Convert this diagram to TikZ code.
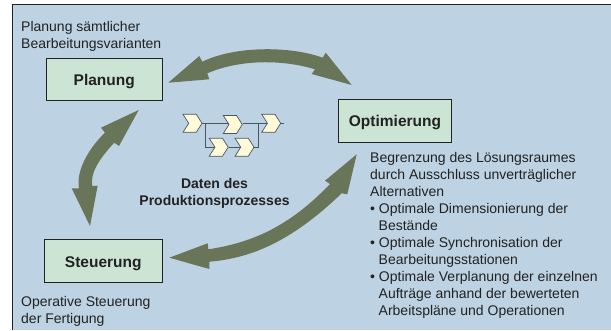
\documentclass[tikz,border=0pt]{standalone}
\usepackage{fontspec}
\setmainfont{Liberation Sans}
\usetikzlibrary{shapes.symbols}
\definecolor{panelblue}{HTML}{BDD2E2}
\definecolor{boxgreen}{HTML}{CBE4D4}
\definecolor{arrowgreen}{HTML}{687558}
\definecolor{stepyellow}{HTML}{FFFBD9}
\definecolor{linegray}{HTML}{4A5560}
\definecolor{inkdark}{HTML}{222222}
\tikzset{
	stagebox/.style={draw=inkdark,line width=0.9pt,fill=boxgreen,text=inkdark,inner sep=0pt,text height=12pt,text depth=0pt,font=\fontsize{15.5}{17}\selectfont\bfseries},
	plaintext/.style={anchor=north west,inner sep=0pt,align=left,text=inkdark,font=\fontsize{14}{17}\selectfont},
	boldtext/.style={inner sep=0pt,align=center,text=inkdark,font=\fontsize{14}{17}\selectfont\bfseries},
	procstep/.style={signal,signal from=west,signal to=east,signal pointer angle=115,draw=linegray,line width=0.7pt,fill=stepyellow,inner sep=0pt,minimum width=19pt,minimum height=18pt},
	flowline/.style={draw=linegray,line width=0.8pt},
	bigarrow/.style={fill=arrowgreen}
}
\begin{document}
\begin{tikzpicture}[x=1pt,y=-1pt]
		\useasboundingbox (0,0) rectangle (611,330);
		\fill[panelblue] (12.5,4.5) rectangle (611,330);
		\draw[inkdark,line width=0.9pt] (12.5,330) -- (12.5,4.5) -- (611,4.5);

		\node[stagebox,minimum width=115.5pt,minimum height=42pt] (planung) at (104.3,79) {Planung};
		\node[stagebox,minimum width=113.5pt,minimum height=43pt] (optimierung) at (395,120.8) {Optimierung};
		\node[stagebox,minimum width=118.5pt,minimum height=42.5pt] (steuerung) at (103.3,261) {Steuerung};

		% text beside the stages
		\node[plaintext] (plantext) at (21,21) {Planung sämtlicher\\Bearbeitungsvarianten};
		\node[plaintext] (steuertext) at (21,296.5) {Operative Steuerung\\der Fertigung};
		\node[plaintext] (optitext) at (370,152) {Begrenzung des Lösungsraumes\\durch Ausschluss unverträglicher\\Alternativen\\• Optimale Dimensionierung der\\\hspace{8.5pt}Bestände\\• Optimale Synchronisation der\\\hspace{8.5pt}Bearbeitungsstationen\\• Optimale Verplanung der einzelnen\\\hspace{8.5pt}Aufträge anhand der bewerteten\\\hspace{8.5pt}Arbeitspläne und Operationen};
		\node[boldtext] (datentext) at (214.5,193.5) {Daten des\\Produktionsprozesses};

		% process chain
		\foreach \name/\x/\y in {p1/192.5/123.3,p2/232.8/124.5,p3/271.2/123.3,p4/218.7/147.2,p5/244.5/147.2}{
			\node[procstep] (\name) at (\x,\y) {};
		}
		\coordinate (tail) at (284,123.3);
		\coordinate (split) at (205,123.3);
		\coordinate (merge) at (258,123.3);
		\draw[flowline] (p1.east) -- (p2.west |- tail);
		\draw[flowline] (p2.east |- tail) -- (p3.west);
		\draw[flowline] (p3.east) -- (tail);
		\draw[flowline] (split) |- (p4.west);
		\draw[flowline] (p4.east) -- (p5.west);
		\draw[flowline] (p5.east) -| (merge);

		% double arrows
		\fill[bigarrow] (168.3,82.7) -- (199.3,56) -- (202.3,61.7) .. controls (235,45.8) and (290,45.8) .. (322.7,57.7) -- (325.7,52.7) -- (351.7,85) -- (311.7,74) -- (315,69.3) .. controls (282,59.3) and (240,59.3) .. (207.3,73.3) -- (209.3,79.3) -- cycle;
		\fill[bigarrow] (138.7,110) -- (101,127.7) -- (105,132.7) .. controls (87,150) and (76,172) .. (79,188.3) -- (71.7,188.3) -- (90,226) -- (97.7,185.7) -- (92.3,186) .. controls (90,174) and (98,160) .. (114.3,142.7) -- (119,146) -- cycle;
		\fill[bigarrow] (169.3,257.7) -- (207.7,243.3) -- (208.3,249.3) .. controls (250,243) and (288,228) .. (330,184) -- (325,180.7) -- (356.7,154.3) -- (347.3,194.3) -- (341.7,193.3) .. controls (295,238) and (255,258) .. (209.3,261.7) -- (209.3,269) -- cycle;
	\end{tikzpicture}
\end{document}
